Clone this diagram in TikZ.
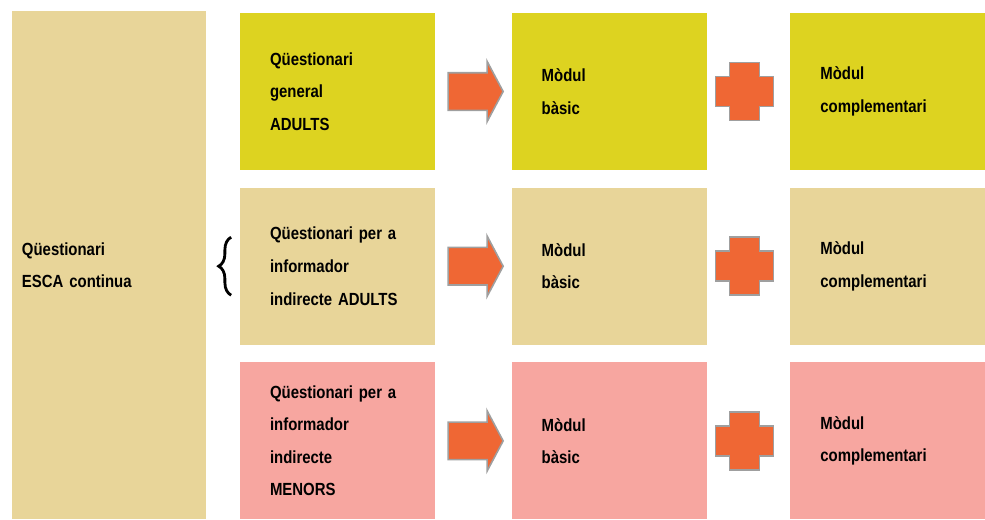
\documentclass[tikz,border=0pt]{standalone}
\usepackage{fontspec}
\setmainfont{Liberation Sans}[FakeStretch=0.85]
\usetikzlibrary{positioning,shapes.arrows,decorations.pathreplacing,calc}
\definecolor{yellowbox}{RGB}{221,211,32}
\definecolor{tanbox}{RGB}{232,213,153}
\definecolor{pinkbox}{RGB}{247,166,160}
\definecolor{orangesign}{RGB}{239,103,52}
\begin{document}
\begin{tikzpicture}[
box/.style={minimum width=3.9cm, minimum height=3.14cm, text width=2.7cm, inner xsep=0.6cm,
  align=left, font=\fontsize{10}{18.5}\selectfont\bfseries},
arrowsign/.style={single arrow, fill=orangesign, draw=gray!75, line width=0.9pt,
  inner xsep=0pt, inner ysep=0.36cm, minimum height=1.1cm,
  single arrow head extend=0.23cm, single arrow tip angle=124},
plussign/.pic={\draw[fill=orangesign, draw=gray!75, line width=0.9pt]
  (-0.3,-0.58) -- (0.3,-0.58) -- (0.3,-0.3) -- (0.58,-0.3) -- (0.58,0.3) -- (0.3,0.3)
  -- (0.3,0.58) -- (-0.3,0.58) -- (-0.3,0.3) -- (-0.58,0.3) -- (-0.58,-0.3) -- (-0.3,-0.3) -- cycle;},
bracesign/.style={decorate, decoration={brace, amplitude=0.25cm}, line width=1.6pt}]
\useasboundingbox (0,0) rectangle (19.7,10.38);
% left column
\node[box, fill=tanbox, minimum width=3.88cm, minimum height=10.16cm, text width=3.48cm,
  inner xsep=0.2cm] (esca) at (2.18,5.08) {Qüestionari\\ESCA continua};
% questionnaires
\node[box, fill=yellowbox] (q1) at (6.75,8.55) {Qüestionari\\general\\ADULTS};
\node[box, fill=tanbox, below=0.34cm of q1] (q2) {Qüestionari per a\\informador\\indirecte ADULTS};
\node[box, fill=pinkbox, below=0.34cm of q2] (q3) {Qüestionari per a\\informador\\indirecte\\MENORS};
% basic modules
\node[box, fill=yellowbox, right=1.52cm of q1] (b1) {Mòdul\\bàsic};
\node[box, fill=tanbox, right=1.52cm of q2] (b2) {Mòdul\\bàsic};
\node[box, fill=pinkbox, right=1.52cm of q3] (b3) {Mòdul\\bàsic};
% complementary modules
\node[box, fill=yellowbox, right=1.66cm of b1] (c1) {Mòdul\\complementari};
\node[box, fill=tanbox, right=1.66cm of b2] (c2) {Mòdul\\complementari};
\node[box, fill=pinkbox, right=1.66cm of b3] (c3) {Mòdul\\complementari};
% arrows and plus signs
\foreach \r in {1,2,3} {
  \node[arrowsign, right=0.24cm of q\r] (a\r) {};
  \pic at ($(b\r.east)!0.45!(c\r.west)$) {plussign};
}
\draw[bracesign] ($(q2.west)+(-0.17,-0.58)$) -- ($(q2.west)+(-0.17,0.58)$);
\end{tikzpicture}
\end{document}
